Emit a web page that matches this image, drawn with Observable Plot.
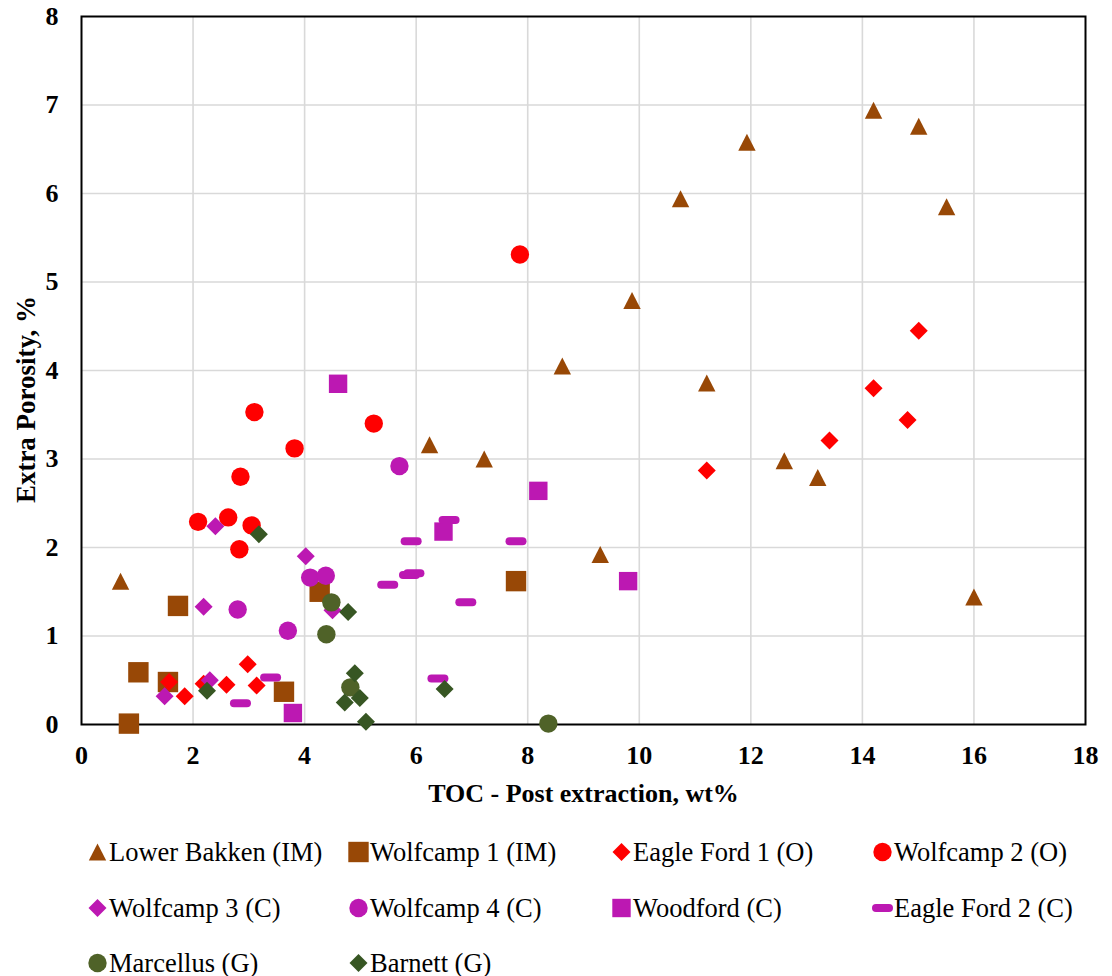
<!DOCTYPE html>
<html><head><meta charset="utf-8">
<script src="https://cdn.jsdelivr.net/npm/d3@7"></script>
<script src="https://cdn.jsdelivr.net/npm/@observablehq/plot@0.6"></script>
<style>
body{margin:0;background:#fff;font-family:"Liberation Serif","Times New Roman",Times,"DejaVu Serif",serif;}
#wrap{position:relative;width:1112px;height:976px;}
.lg{position:absolute;display:flex;align-items:center;font-size:26.5px;color:#000;white-space:nowrap;height:30px;}
.lg svg{display:block;margin-right:1px;}
</style></head><body><div id="wrap"><div id="chart"></div></div>
<script>
// ---- data ----
const lowerBakkenX = [0.70, 6.24, 7.22, 8.62, 9.30, 9.87, 10.74, 11.21, 11.93, 12.60, 13.20, 14.20, 15.01, 15.51, 16.00];
const lowerBakkenY = [1.62, 3.16, 3.00, 4.05, 1.92, 4.79, 5.94, 3.86, 6.58, 2.98, 2.79, 6.94, 6.76, 5.85, 1.44];
const wolfcamp1X = [0.85, 1.02, 1.55, 1.73, 3.63, 4.27, 7.79];
const wolfcamp1Y = [0.01, 0.59, 0.48, 1.34, 0.37, 1.50, 1.62];
const eagleFord1X = [1.57, 1.85, 2.19, 2.60, 2.98, 3.14, 11.21, 13.41, 14.20, 14.81, 15.01];
const eagleFord1Y = [0.48, 0.32, 0.46, 0.45, 0.68, 0.44, 2.87, 3.21, 3.80, 3.44, 4.45];
const wolfcamp2X = [2.09, 2.63, 3.05, 2.83, 2.85, 3.10, 3.82, 5.24, 7.86];
const wolfcamp2Y = [2.29, 2.34, 2.25, 1.98, 2.80, 3.53, 3.12, 3.40, 5.31];
const wolfcamp3X = [2.40, 4.02, 2.19, 4.50, 2.30, 1.49];
const wolfcamp3Y = [2.24, 1.90, 1.33, 1.29, 0.50, 0.32];
const wolfcamp4X = [5.70, 4.10, 4.38, 2.80, 3.70];
const wolfcamp4Y = [2.92, 1.66, 1.68, 1.30, 1.06];
const woodfordX = [4.60, 8.19, 6.49, 9.80, 3.79];
const woodfordY = [3.85, 2.64, 2.18, 1.62, 0.13];
const eagleFord2X = [3.39, 2.85, 5.91, 6.59, 7.79, 5.49, 5.88, 5.96, 6.89, 6.39];
const eagleFord2Y = [0.53, 0.24, 2.07, 2.31, 2.07, 1.58, 1.69, 1.71, 1.38, 0.52];
const marcellusX = [4.48, 4.39, 4.82, 8.37];
const marcellusY = [1.38, 1.02, 0.42, 0.01];
const barnettX = [3.18, 2.25, 4.78, 4.90, 4.72, 4.99, 5.10, 6.51];
const barnettY = [2.15, 0.38, 1.27, 0.58, 0.25, 0.30, 0.03, 0.40];

const seriesNames = ["Lower Bakken (IM)", "Wolfcamp 1 (IM)", "Eagle Ford 1 (O)", "Wolfcamp 2 (O)",
  "Wolfcamp 3 (C)", "Wolfcamp 4 (C)", "Woodford (C)", "Eagle Ford 2 (C)", "Marcellus (G)", "Barnett (G)"];
const seriesX = [lowerBakkenX, wolfcamp1X, eagleFord1X, wolfcamp2X, wolfcamp3X, wolfcamp4X, woodfordX, eagleFord2X, marcellusX, barnettX];
const seriesY = [lowerBakkenY, wolfcamp1Y, eagleFord1Y, wolfcamp2Y, wolfcamp3Y, wolfcamp4Y, woodfordY, eagleFord2Y, marcellusY, barnettY];
const seriesColors = ["#984806", "#984806", "#FF0000", "#FF0000", "#BC18B2", "#BC18B2", "#BC18B2", "#BC18B2", "#4F6228", "#375623"];
const seriesShapes = ["triangle", "bigSquare", "diamond", "circle", "diamond", "circle", "square", "dash", "circle", "diamond"];

const xTicks = [0, 2, 4, 6, 8, 10, 12, 14, 16, 18];
const yTicks = [0, 1, 2, 3, 4, 5, 6, 7, 8];
const xTitle = "TOC - Post extraction, wt%";
const yTitle = "Extra Porosity, %";

// ---- marker shapes ----
const shapes = {
  triangle: {draw(c){ c.moveTo(0,-8.5); c.lineTo(8.7,8.5); c.lineTo(-8.7,8.5); c.closePath(); }},
  bigSquare: {draw(c){ c.rect(-10.2,-10.2,20.4,20.4); }},
  square: {draw(c){ c.rect(-9.2,-9.2,18.4,18.4); }},
  diamond: {draw(c){ c.moveTo(0,-9); c.lineTo(9,0); c.lineTo(0,9); c.lineTo(-9,0); c.closePath(); }},
  circle: {draw(c){ c.moveTo(9.2,0); c.arc(0,0,9.2,0,2*Math.PI); c.closePath(); }},
  dash: {draw(c){ c.moveTo(-6.5,-4); c.lineTo(6.5,-4); c.arc(6.5,0,4,-Math.PI/2,Math.PI/2); c.lineTo(-6.5,4); c.arc(-6.5,0,4,Math.PI/2,3*Math.PI/2); c.closePath(); }}
};

const font = "'Liberation Serif', 'Times New Roman', Times, 'DejaVu Serif', serif";

const dotMarks = seriesNames.map((name, i) => {
  const rows = seriesX[i].map((x, j) => ({x, y: seriesY[i][j], s: name}));
  return Plot.dot(rows, {x: "x", y: "y", symbol: () => shapes[seriesShapes[i]], r: 5, fill: seriesColors[i], stroke: "none"});
});

const chart = Plot.plot({
  width: 1112, height: 800,
  marginLeft: 81, marginRight: 27, marginTop: 16, marginBottom: 76,
  style: {fontFamily: font, background: "#fff", color: "#000", overflow: "visible"},
  x: {domain: [0, 18]},
  y: {domain: [0, 8]},
  symbol: {type: "identity"},
  marks: [
    Plot.gridX(xTicks.filter(v => v > 0 && v < 18), {stroke: "#d9d9d9", strokeOpacity: 1, strokeWidth: 1.6}),
    Plot.gridY(yTicks.filter(v => v > 0 && v < 8), {stroke: "#d9d9d9", strokeOpacity: 1, strokeWidth: 1.6}),
    Plot.frame({stroke: "#000", strokeWidth: 2}),
    ...dotMarks,
    Plot.axisX({ticks: xTicks, tickSize: 0, tickPadding: 21, label: null, fontSize: 26, fontWeight: "bold", tickFormat: d => String(d)}),
    Plot.axisY({ticks: yTicks, tickSize: 0, tickPadding: 23, label: null, fontSize: 26, fontWeight: "bold", tickFormat: d => String(d)}),
    Plot.text([xTitle], {frameAnchor: "bottom", dy: 69, lineAnchor: "middle", textAnchor: "middle", text: d => d, fontSize: 26, fontWeight: "bold", fill: "#000"}),
    Plot.text([yTitle], {frameAnchor: "left", dx: -55, dy: 29, rotate: -90, lineAnchor: "middle", textAnchor: "middle", text: d => d, fontSize: 27, fontWeight: "bold", fill: "#000"})
  ]
});
document.getElementById("chart").appendChild(chart);

// ---- legend ----
const legCols = [87, 348, 611, 872];
const legRows = [837, 893, 948];
const wrap = document.getElementById("wrap");
seriesNames.forEach((name, i) => {
  const div = document.createElement("div");
  div.className = "lg";
  div.style.left = legCols[i % 4] + "px";
  div.style.top = legRows[Math.floor(i / 4)] + "px";
  const svg = d3.create("svg").attr("width", 21).attr("height", 22);
  svg.append("path").attr("transform", "translate(10.5,11)")
    .attr("d", d3.symbol(shapes[seriesShapes[i]])())
    .attr("fill", seriesColors[i]);
  div.appendChild(svg.node());
  const span = document.createElement("span");
  span.textContent = name;
  div.appendChild(span);
  wrap.appendChild(div);
});
</script>
</body></html>
